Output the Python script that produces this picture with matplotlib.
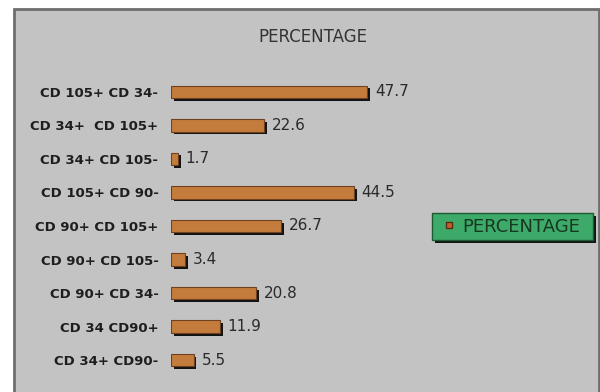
import matplotlib.pyplot as plt
import matplotlib.patheffects as pe
from matplotlib.patches import Rectangle
from matplotlib.lines import Line2D

labels = ['CD 105+ CD 34-', 'CD 34+  CD 105+', 'CD 34+ CD 105-', 'CD 105+ CD 90-',
          'CD 90+ CD 105+', 'CD 90+ CD 105-', 'CD 90+ CD 34-', 'CD 34 CD90+', 'CD 34+ CD90-']
percentage = [47.7, 22.6, 1.7, 44.5, 26.7, 3.4, 20.8, 11.9, 5.5]

fig = plt.figure(figsize=(6, 3.92), dpi=100)
fig.patch.set_facecolor('white')

# gray panel behind the chart
panel = Rectangle((13.5 / 600, -0.05), 585.5 / 600, (392 - 8.5) / 392 + 0.05,
                  transform=fig.transFigure, facecolor='#c3c3c3',
                  edgecolor='#6e6e6e', lw=2, zorder=-1)
fig.patches.append(panel)

fig.text(313 / 600, 1 - 37 / 392, 'PERCENTAGE', ha='center', va='center',
         fontsize=12, color='#333333', family='DejaVu Sans')

ax = fig.add_axes([171 / 600, 15 / 392, 411 / 600, 302 / 392])
ax.set_facecolor('none')

y = list(range(len(labels)))
bars = ax.barh(y, percentage, height=0.37, color='#c47c3c', edgecolor='#6e4220',
               lw=0.8, label='PERCENTAGE')
for b in bars:
    b.set_path_effects([pe.SimplePatchShadow(offset=(2, -2), shadow_rgbFace='black', alpha=0.9),
                        pe.Normal()])

for i, v in enumerate(percentage):
    ax.text(v + 1.9, i, f'{v}', va='center', ha='left', fontsize=11, color='#2a2a2a')

ax.set_xlim(0, 100)
ax.set_ylim(len(labels) - 0.5, -0.5)
ax.set_yticks(y, labels)
ax.tick_params(axis='y', length=0, pad=9, labelsize=9.5, labelcolor='#1e1e1e')
for t in ax.get_yticklabels():
    t.set_fontweight('bold')
ax.set_xticks([])
for s in ax.spines.values():
    s.set_visible(False)

handle = Line2D([], [], marker='s', ls='none', markersize=5,
                markerfacecolor='#c0622a', markeredgecolor='#5a2a10')
fig.legend([handle], ['PERCENTAGE'], loc='center', mode='expand',
           bbox_to_anchor=(432 / 600, 1 - 242 / 392, 161 / 600, 31 / 392), fontsize=13,
           handlelength=1.4, handletextpad=0.0, borderpad=0.25, borderaxespad=0,
           fancybox=False, framealpha=1, facecolor='#3daa6a', edgecolor='#1e5a34',
           labelcolor='#163820',
           shadow={'facecolor': 'black', 'edgecolor': 'none', 'alpha': 0.9})

fig.savefig('out.png', dpi=100)
